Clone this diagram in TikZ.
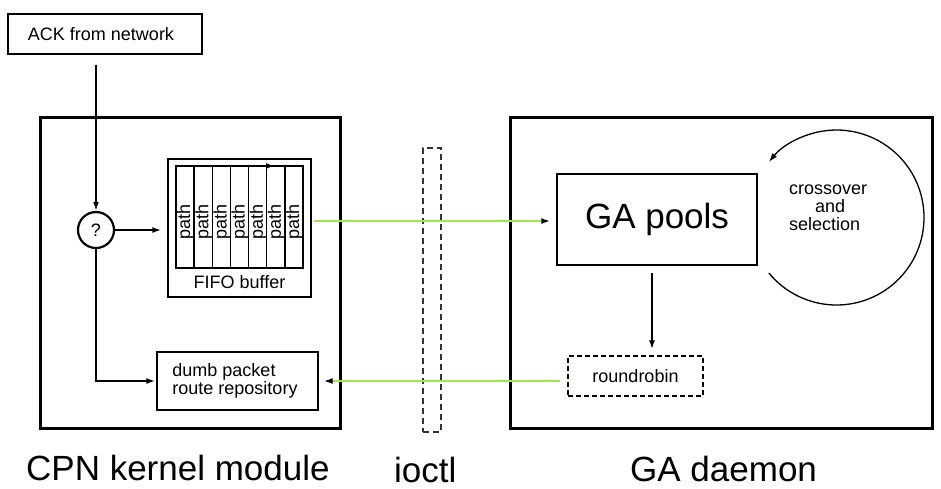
\documentclass[tikz,border=0pt]{standalone}
\usepackage{fontspec}
\setmainfont{Liberation Sans}
\usetikzlibrary{arrows.meta}
\definecolor{lgreen}{RGB}{160,230,80}
\begin{document}
\begin{tikzpicture}[x=1pt,y=-1pt,
  small/.style={font=\fontsize{18}{19}\selectfont},
  big/.style={font=\fontsize{35}{40}\selectfont},
  frame/.style={draw,line width=3pt,inner sep=0pt},
  box/.style={draw,line width=1.3pt,inner sep=0pt,small},
  arr/.style={-{Latex[length=9pt,width=6pt,color=black]}},
  flow/.style={line width=2.4pt},
  glink/.style={draw=lgreen,line width=2pt}
]
\useasboundingbox (0,0) rectangle (941,488);

% frames
\node[frame,minimum width=300pt,minimum height=311pt] (cpn) at (190,272.5) {};
\node[frame,minimum width=422pt,minimum height=311pt] (gad) at (721,272.5) {};
\node[draw,dashed,dash pattern=on 6pt off 4pt,line width=1.3pt,draw=black!80,minimum width=18pt,minimum height=284pt,inner sep=0pt] (ioc) at (432,290) {};

% nodes
\node[box,minimum width=194pt,minimum height=40pt] (ack) at (105,34) {ACK from network\hspace*{8pt}};
\node[draw,circle,line width=2.2pt,minimum size=36pt,inner sep=0pt,small] (q) at (96,230) {?};
\node[box,minimum width=143pt,minimum height=138pt] (fifo) at (239.5,228) {};
\node[small,anchor=center] (fifol) at (239.5,282) {FIFO buffer};
\node[box,minimum width=161pt,minimum height=58pt,align=left,font=\fontsize{18}{18}\selectfont] (dumb) at (237.5,381) {dumb packet\\route repository\hspace*{5pt}};
\node[box,minimum width=200pt,minimum height=91pt,big] (ga) at (657,219.5) {GA pools};
\node[box,dashed,dash pattern=on 5pt off 3pt,minimum width=135pt,minimum height=40pt] (rr) at (635.5,376) {roundrobin};

% path columns
\draw[line width=1.3pt] (176,166) rectangle (303,268);
\foreach \i in {1,...,6} {
  \draw[line width=1.3pt] ({176+\i*127/7},166) -- ({176+\i*127/7},268);
}
\foreach \i in {0,...,6} {
  \node[small,rotate=90,inner sep=0pt] (p\i) at ({176.5+(\i+0.5)*127/7},222) {path};
}
\coordinate (fa) at (220,166);
\coordinate (fb) at (275,166);
\draw[arr,line width=1.8pt] (fa) -- (fb);

% crossover text
\node[small,anchor=base west,inner sep=0pt] (c1) at (789,194) {crossover};
\node[small,anchor=base west,inner sep=0pt] (c2) at (815,212) {and};
\node[small,anchor=base west,inner sep=0pt] (c3) at (789,230) {selection};

% loop arc
\coordinate (lc) at (836.5,217.5);
\draw[arr,line width=1.3pt] (lc) ++(140.6:87.5) arc[start angle=140.6,end angle=-140.6,radius=87.5];

% connectors
\draw[flow,arr] ([yshift=-10pt]ack.south -| q.north) -- (q.north);
\draw[flow,arr,shorten >=6pt] (q.east) -- (q.east -| fifo.west);
\draw[flow,arr,shorten >=1pt] (q.south) -- (q.south |- dumb.west) -- (dumb.west);
\draw[glink,arr,shorten >=6pt] ([xshift=2pt,yshift=-1.5pt]fifo.east |- ga.west) -- ([yshift=-1.5pt]ga.west);
\draw[flow,arr,shorten <=7pt,shorten >=6pt] ([xshift=-5pt]ga.south) -- ([xshift=-5pt]ga.south |- rr.north);
\draw[glink,arr,shorten >=5pt] ([xshift=-7pt]rr.west |- dumb.east) -- (dumb.east);

% labels
\node[big,anchor=base west,inner sep=0pt] (l1) at (26,480) {CPN kernel module};
\node[big,anchor=base west,inner sep=0pt] (l2) at (394,482) {ioctl};
\node[big,anchor=base west,inner sep=0pt] (l3) at (630,481) {GA daemon};
\end{tikzpicture}
\end{document}
